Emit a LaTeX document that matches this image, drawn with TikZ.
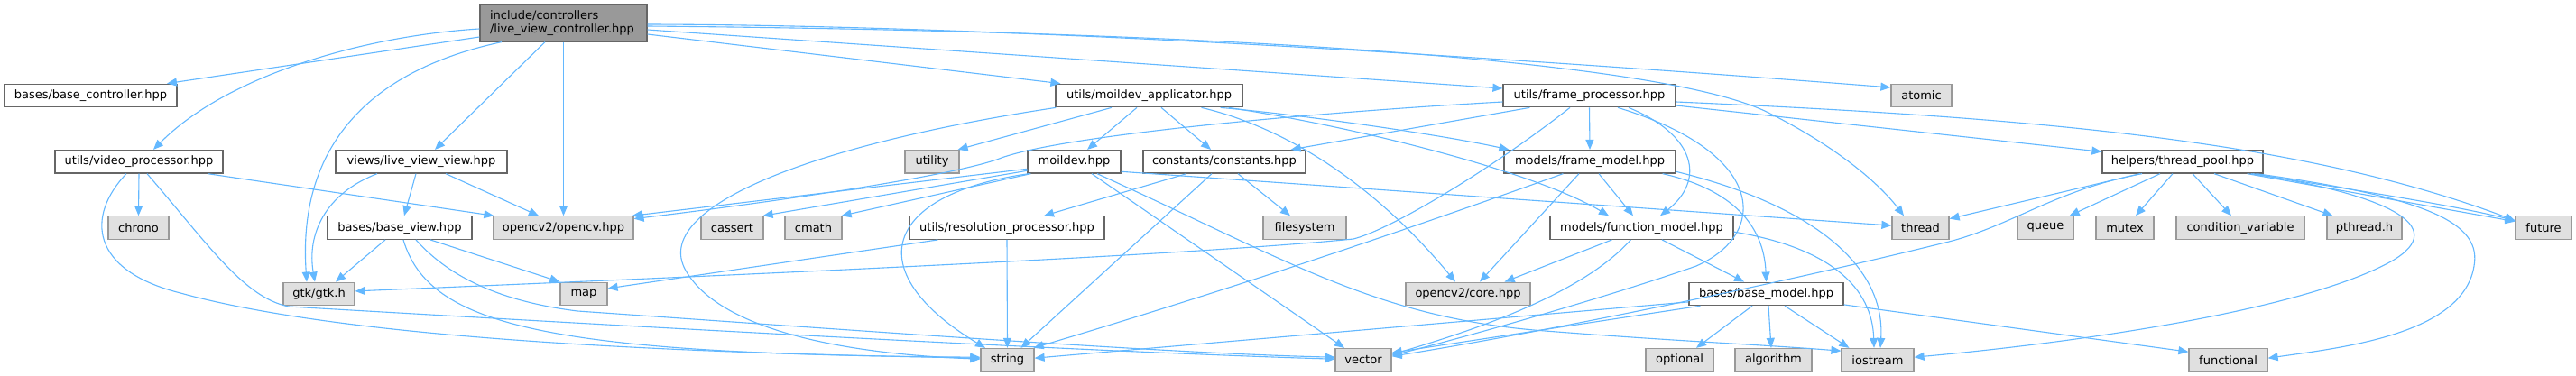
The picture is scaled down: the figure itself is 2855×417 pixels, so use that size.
\documentclass[tikz,border=0pt]{standalone}
\usepackage{fontspec}
\setmainfont{DejaVu Sans}
\usetikzlibrary{arrows.meta}
\definecolor{edgeblue}{HTML}{63B8FF}
\definecolor{intborder}{HTML}{666666}
\definecolor{extfill}{HTML}{E0E0E0}
\definecolor{extborder}{HTML}{999999}
\definecolor{rootfill}{HTML}{999999}
\begin{document}
\begin{tikzpicture}[x=1pt,y=-1pt,
  box/.style={rectangle, line width=1.2pt, inner sep=0pt, minimum height=25.5pt, font=\fontsize{13pt}{15.5pt}\selectfont, text=black},
  intbox/.style={box, draw=intborder, fill=white},
  extbox/.style={box, draw=extborder, fill=extfill},
  rootbox/.style={box, draw=intborder, fill=rootfill, minimum height=41pt, align=left, text width=163pt, inner xsep=11pt},
  dep/.style={draw=edgeblue, line width=1.1pt, -{Triangle[length=11pt,width=9pt]}}]
\useasboundingbox (0,0) rectangle (2855,417);
\fill[white] (0,0) rectangle (2855,417);
% nodes
\node[rootbox] (root) at (624.5,25.5) {include/controllers\\/live\_view\_controller.hpp};
\node[intbox, minimum width=191pt] (bc) at (100.5,106) {bases/base\_controller.hpp};
\node[intbox, minimum width=207pt] (mda) at (1273.5,106) {utils/moildev\_applicator.hpp};
\node[intbox, minimum width=191pt] (fp) at (1761.5,106) {utils/frame\_processor.hpp};
\node[extbox, minimum width=67pt] (atomic) at (2129.5,106) {atomic};
\node[intbox, minimum width=186pt] (vp) at (154,179.3) {utils/video\_processor.hpp};
\node[intbox, minimum width=190pt] (lvv) at (467,179.3) {views/live\_view\_view.hpp};
\node[extbox, minimum width=60pt] (util) at (1033,179.3) {utility};
\node[intbox, minimum width=103pt] (mdv) at (1190.5,179.3) {moildev.hpp};
\node[intbox, minimum width=180pt] (const) at (1357,179.3) {constants/constants.hpp};
\node[intbox, minimum width=190pt] (fm) at (1762,179.3) {models/frame\_model.hpp};
\node[intbox, minimum width=178pt] (tp) at (2419,179.3) {helpers/thread\_pool.hpp};
\node[extbox, minimum width=67pt] (chrono) at (153.5,252.6) {chrono};
\node[intbox, minimum width=160pt] (bv) at (443,252.6) {bases/base\_view.hpp};
\node[extbox, minimum width=155pt] (ocv) at (624.5,252.6) {opencv2/opencv.hpp};
\node[extbox, minimum width=69pt] (cassert) at (811.5,252.6) {cassert};
\node[extbox, minimum width=63pt] (cmath) at (901.5,252.6) {cmath};
\node[intbox, minimum width=216pt] (rp) at (1116,252.6) {utils/resolution\_processor.hpp};
\node[extbox, minimum width=92pt] (fs) at (1446,252.6) {filesystem};
\node[intbox, minimum width=203pt] (fn) at (1819.5,252.6) {models/function\_model.hpp};
\node[extbox, minimum width=63pt] (thread) at (2128.5,252.6) {thread};
\node[extbox, minimum width=62pt] (queue) at (2267,252.6) {queue};
\node[extbox, minimum width=64pt] (mutex) at (2355,252.6) {mutex};
\node[extbox, minimum width=142pt] (cv) at (2483,252.6) {condition\_variable};
\node[extbox, minimum width=83pt] (pth) at (2620.5,252.6) {pthread.h};
\node[extbox, minimum width=62pt] (future) at (2819,252.6) {future};
\node[extbox, minimum width=79pt] (gtk) at (353.5,325.9) {gtk/gtk.h};
\node[extbox, minimum width=52pt] (map) at (647,325.9) {map};
\node[extbox, minimum width=138pt] (core) at (1627,325.9) {opencv2/core.hpp};
\node[intbox, minimum width=171pt] (bm) at (1957.5,325.9) {bases/base\_model.hpp};
\node[extbox, minimum width=59pt] (str) at (1116.5,399.2) {string};
\node[extbox, minimum width=62pt] (vec) at (1511,399.2) {vector};
\node[extbox, minimum width=75pt] (opt) at (1861.5,399.2) {optional};
\node[extbox, minimum width=85pt] (alg) at (1965.5,399.2) {algorithm};
\node[extbox, minimum width=80pt] (ios) at (2081,399.2) {iostream};
\node[extbox, minimum width=87pt] (func) at (2469.5,399.2) {functional};
% root edges
\draw[dep] ([yshift=-15.5pt]root.west) -- ([xshift=84.5pt]bc.north);
\draw[dep] ([yshift=-6.5pt]root.west) .. controls (400,40) and (250,85) .. ([xshift=16pt]vp.north);
\draw[dep] ([xshift=-68.5pt]root.south) .. controls (400,80) and (330,170) .. ([xshift=-13.5pt]gtk.north);
\draw[dep] ([xshift=-20.5pt]root.south) -- ([xshift=15pt]lvv.north);
\draw[dep] (root.south) -- (ocv.north);
\draw[dep] ([yshift=-12.5pt]root.east) -- ([xshift=6pt]mda.north west);
\draw[dep] ([yshift=-7.5pt]root.east) -- ([yshift=8pt]fp.west);
\draw[dep] ([yshift=-1.5pt]root.east) .. controls (1150,28) and (1750,70) .. ([yshift=9pt]atomic.west);
\draw[dep] ([yshift=-3.5pt]root.east) .. controls (1400,35) and (1850,70) .. (1960,125) .. controls (2030,160) and (2080,200) .. ([xshift=-18.5pt]thread.north);
% video processor
\draw[dep] (vp.south) -- (chrono.north);
\draw[dep] ([xshift=76pt]vp.south) -- ([xshift=1pt]ocv.north west);
\draw[dep] ([xshift=-14pt]vp.south) .. controls (95,240) and (100,300) .. (200,325) .. controls (400,380) and (800,392) .. ([yshift=2pt]str.west);
\draw[dep] ([xshift=9pt]vp.south) .. controls (230,270) and (270,330) .. (320,340) .. controls (700,362) and (1200,390) .. ([yshift=1pt]vec.west);
% live view view
\draw[dep] ([xshift=-49pt]lvv.south) .. controls (360,215) and (340,260) .. ([xshift=-4.5pt]gtk.north);
\draw[dep] ([xshift=-6pt]lvv.south) -- ([xshift=5pt]bv.north);
\draw[dep] ([xshift=27pt]lvv.south) -- ([xshift=-27.5pt]ocv.north);
% base view
\draw[dep] ([xshift=-16pt]bv.south) -- ([xshift=18.5pt]gtk.north);
\draw[dep] ([xshift=34pt]bv.south) -- (map.north west);
\draw[dep] ([xshift=4pt]bv.south) .. controls (475,360) and (600,393) .. ([yshift=3pt]str.west);
\draw[dep] ([xshift=18pt]bv.south) .. controls (500,310) and (560,335) .. (640,345) .. controls (1000,370) and (1300,392) .. ([yshift=3pt]vec.west);
% moildev applicator
\draw[dep] ([xshift=1pt]mda.south west) .. controls (900,160) and (720,230) .. (760,300) .. controls (800,370) and (950,393) .. ([yshift=1pt]str.west);
\draw[dep] ([xshift=-41.5pt]mda.south) -- ([xshift=-2pt]util.north east);
\draw[dep] ([xshift=-13.5pt]mda.south) -- ([xshift=14.5pt]mdv.north);
\draw[dep] ([xshift=13.5pt]mda.south) -- ([xshift=-15pt]const.north);
\draw[dep] ([xshift=58pt]mda.south) .. controls (1420,140) and (1520,200) .. ([xshift=-14pt]core.north);
\draw[dep] ([xshift=-25pt]mda.south east) .. controls (1450,128) and (1600,150) .. ([xshift=6pt]fm.north west);
\draw[dep] ([xshift=-16pt]mda.south east) .. controls (1500,140) and (1700,190) .. ([xshift=-36.5pt]fn.north);
% moildev
\draw[dep] ([yshift=-8pt]mdv.west) -- ([xshift=-2pt]ocv.north east);
\draw[dep] ([yshift=-10pt]mdv.west) -- ([xshift=-1pt]cassert.north east);
\draw[dep] ([xshift=4pt]mdv.south west) -- ([xshift=-1pt]cmath.north east);
\draw[dep] ([xshift=2pt]mdv.south west) .. controls (980,215) and (950,300) .. ([xshift=-24.5pt]str.north);
\draw[dep] ([yshift=-11pt]mdv.east) -- ([yshift=2.5pt]thread.west);
\draw[dep] ([xshift=19.5pt]mdv.south) -- ([xshift=-21pt]vec.north);
\draw[dep] ([xshift=25.5pt]mdv.south) .. controls (1420,285) and (1520,350) .. (1700,366) .. controls (1850,378) and (1950,382) .. ([yshift=10pt]ios.west);
% constants
\draw[dep] ([xshift=-42pt]const.south) -- ([xshift=41pt]rp.north);
\draw[dep] ([xshift=-14pt]const.south) -- ([xshift=15pt]str.north);
\draw[dep] ([xshift=15pt]const.south) -- ([xshift=-16pt]fs.north);
% frame processor
\draw[dep] ([yshift=-7pt]fp.west) .. controls (1450,125) and (1180,150) .. (1110,175) .. controls (1060,195) and (850,225) .. ([yshift=10pt]ocv.east);
\draw[dep] ([xshift=30pt]fp.south west) -- ([xshift=-17pt]const.north east);
\draw[dep] ([xshift=-21.5pt]fp.south) .. controls (1650,190) and (1540,255) .. (1500,265) .. controls (1300,285) and (700,310) .. ([yshift=3pt]gtk.east);
\draw[dep] (fp.south) -- (fm.north);
\draw[dep] ([xshift=43.5pt]fp.south) .. controls (1880,150) and (1890,200) .. ([xshift=20.5pt]fn.north);
\draw[dep] ([xshift=31.5pt]fp.south) .. controls (1960,170) and (1960,260) .. (1880,295) .. controls (1780,330) and (1620,375) .. ([yshift=5pt]vec.east);
\draw[dep] ([yshift=-7pt]fp.east) .. controls (2250,130) and (2550,155) .. ([yshift=8pt]future.west);
\draw[dep] ([yshift=-11pt]fp.east) -- ([yshift=11pt]tp.west);
% frame model
\draw[dep] ([xshift=66pt]fm.south west) .. controls (1600,240) and (1400,310) .. ([xshift=-1pt]str.north east);
\draw[dep] ([xshift=-12pt]fm.south) -- ([xshift=13pt]core.north);
\draw[dep] ([xshift=10pt]fm.south) -- ([xshift=-9.5pt]fn.north);
\draw[dep] ([xshift=-15pt]fm.south east) .. controls (1920,210) and (1955,250) .. (bm.north);
\draw[dep] ([yshift=-11pt]fm.east) .. controls (2000,225) and (2090,290) .. ([xshift=3pt]ios.north);
% function model
\draw[dep] ([xshift=69pt]fn.south west) -- ([xshift=-29pt]core.north east);
\draw[dep] ([xshift=22.5pt]fn.south) -- ([xshift=-24.5pt]bm.north);
\draw[dep] ([xshift=90pt]fn.south west) .. controls (1750,330) and (1620,370) .. ([yshift=6pt]vec.east);
\draw[dep] ([yshift=-4.5pt]fn.east) .. controls (2030,275) and (2075,320) .. ([xshift=-4pt]ios.north);
% base model
\draw[dep] ([yshift=-9pt]bm.west) -- ([yshift=2pt]str.east);
\draw[dep] ([xshift=13pt]bm.south west) -- ([yshift=8pt]vec.east);
\draw[dep] ([xshift=-15.5pt]bm.south) -- ([xshift=18.5pt]opt.north);
\draw[dep] ([xshift=2.5pt]bm.south) -- ([xshift=-2.5pt]alg.north);
\draw[dep] ([xshift=20.5pt]bm.south) -- ([xshift=9pt]ios.north west);
\draw[dep] ([yshift=-12pt]bm.east) -- ([yshift=9pt]func.west);
% thread pool
\draw[dep] ([xshift=-47pt]tp.south) -- ([yshift=10pt]thread.east);
\draw[dep] ([xshift=-45pt]tp.south) .. controls (2280,210) and (2230,250) .. (2160,268) .. controls (1950,320) and (1700,370) .. ([yshift=4pt]vec.east);
\draw[dep] ([xshift=-25pt]tp.south) -- ([xshift=-5pt]queue.north east);
\draw[dep] ([xshift=-11pt]tp.south) -- ([xshift=12pt]mutex.north);
\draw[dep] ([xshift=11pt]tp.south) -- ([xshift=-10pt]cv.north);
\draw[dep] ([xshift=35pt]tp.south) -- ([xshift=7pt]pth.north west);
\draw[dep] ([xshift=-18pt]tp.south east) -- ([yshift=7pt]future.west);
\draw[dep] ([xshift=-14pt]tp.south east) .. controls (2620,212) and (2720,228) .. ([yshift=8pt]future.west);
\draw[dep] ([xshift=-12pt]tp.south east) .. controls (2640,215) and (2720,250) .. (2650,290) .. controls (2550,345) and (2300,380) .. ([yshift=3pt]ios.east);
\draw[dep] ([xshift=-8pt]tp.south east) .. controls (2700,220) and (2750,250) .. (2742,295) .. controls (2730,370) and (2600,385) .. ([yshift=2pt]func.east);
% resolution processor
\draw[dep] ([xshift=32pt]rp.south west) -- ([yshift=6pt]map.east);
\draw[dep] (rp.south) -- (str.north);
\end{tikzpicture}
\end{document}
